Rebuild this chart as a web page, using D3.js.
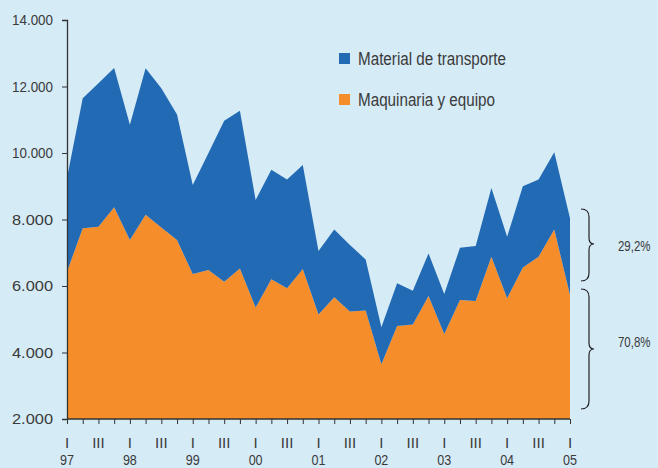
<!DOCTYPE html>
<html>
<head>
<meta charset="utf-8">
<script src="https://cdn.jsdelivr.net/npm/d3@7"></script>
<style>
  html, body { margin: 0; padding: 0; background: #d5ebf6; }
  svg { display: block; }
  text { font-family: "Liberation Sans Narrow", "Arial Narrow", "Liberation Sans", sans-serif; fill: #3a3a3a; }
</style>
</head>
<body>
<svg id="chart" width="658" height="468"></svg>
<script>
// ---- data ----
const years = ["97","98","99","00","01","02","03","04","05"];
const quarterTickLabels = ["I", "", "III", ""];
const seriesNames = ["Maquinaria y equipo", "Material de transporte"];
const maquinaria = [6430,7740,7780,8370,7380,8140,7760,7380,6360,6480,6130,6530,5350,6200,5930,6510,5140,5660,5230,5260,3650,4800,4840,5700,4560,5580,5550,6880,5630,6560,6880,7700,5730];
const transporte = [2820,3910,4320,4190,3470,4410,4190,3780,2680,3520,4840,4740,3240,3300,3270,3130,1910,2040,2000,1540,1110,1280,1020,1280,1200,1570,1650,2070,1850,2440,2320,2320,2310];
const yTicks = [2000,4000,6000,8000,10000,12000,14000];
const shareLabels = ["29,2%", "70,8%"];

// ---- layout ----
const W = 658, H = 468;
const mLeft = 67, mRight = 570, mTop = 20, mBottom = 419;
const colors = { "Maquinaria y equipo": "#f68d2b", "Material de transporte": "#236ab4" };

const svg = d3.select("#chart");
svg.append("rect").attr("width", W).attr("height", H).attr("fill", "#d5ebf6");

const n = maquinaria.length;
const table = d3.range(n).map(i => ({ i, "Maquinaria y equipo": maquinaria[i], "Material de transporte": transporte[i] }));

const x = d3.scaleLinear().domain([0, n - 1]).range([mLeft, mRight]);
const y = d3.scaleLinear().domain([2000, 14000]).range([mBottom, mTop]);

const stack = d3.stack().keys(seriesNames);
const layers = stack(table);

svg.append("clipPath").attr("id", "plot")
  .append("rect").attr("x", mLeft).attr("y", mTop - 5).attr("width", mRight - mLeft).attr("height", mBottom - mTop + 5);

const area = d3.area()
  .x(d => x(d.data.i))
  .y0(d => y(d[0]))
  .y1(d => y(d[1]));

svg.append("g").attr("clip-path", "url(#plot)")
  .selectAll("path").data(layers).join("path")
  .attr("fill", d => colors[d.key])
  .attr("d", area);

// ---- axes ----
const loc = d3.formatLocale({ decimal: ",", thousands: ".", grouping: [3], currency: ["", ""] });
const fmt = loc.format(",.0f");

const yAxis = d3.axisLeft(y).tickValues(yTicks).tickFormat(fmt).tickSize(5).tickPadding(9);
const gy = svg.append("g").attr("transform", `translate(${mLeft},0)`).call(yAxis);
gy.select(".domain").attr("stroke", "#333").attr("stroke-width", 1.3);
gy.selectAll(".tick line").attr("stroke", "#333");
gy.selectAll(".tick text").attr("font-size", 15.5).attr("fill", "#3a3a3a")
  .attr("font-family", "'Liberation Sans Narrow', 'Arial Narrow', 'Liberation Sans', sans-serif")
  .attr("textLength", 41).attr("lengthAdjust", "spacingAndGlyphs");

const xAxis = d3.axisBottom(x).tickValues(d3.range(n)).tickSize(5).tickFormat(() => "");
const gx = svg.append("g").attr("transform", `translate(0,${mBottom})`).call(xAxis);
gx.select(".domain").attr("stroke", "#333").attr("stroke-width", 1.3).attr("d", `M${mLeft},0H${mRight}`);
gx.selectAll(".tick line").attr("stroke", "#333");

// quarter labels
svg.append("g").selectAll("text").data(d3.range(n).filter(i => quarterTickLabels[i % 4] !== ""))
  .join("text")
  .attr("x", i => x(i)).attr("y", 448)
  .attr("text-anchor", "middle").attr("font-size", 15)
  .text(i => quarterTickLabels[i % 4]);

// year labels
svg.append("g").selectAll("text").data(years)
  .join("text")
  .attr("x", (d, k) => x(k * 4)).attr("y", 465)
  .attr("text-anchor", "middle").attr("font-size", 15)
  .attr("textLength", 14).attr("lengthAdjust", "spacingAndGlyphs")
  .text(d => d);

// ---- legend ----
const legendItems = ["Material de transporte", "Maquinaria y equipo"];
const legendWidths = [148, 137];
const lg = svg.append("g").selectAll("g").data(legendItems).join("g")
  .attr("transform", (d, k) => `translate(339,${53 + k * 41})`);
lg.append("rect").attr("width", 11).attr("height", 11).attr("fill", d => colors[d]);
lg.append("text").attr("x", 19).attr("y", 11.5).attr("font-size", 17.5)
  .attr("textLength", (d, k) => legendWidths[k]).attr("lengthAdjust", "spacingAndGlyphs")
  .text(d => d);

// ---- share brackets ----
function bracket(y0, y1, ym) {
  const xs = 589, xe = 581, xp = 594;
  return `M${xe},${y0} Q${xs},${y0} ${xs},${y0 + 8} L${xs},${ym - 6} Q${xs},${ym} ${xp},${ym} ` +
         `Q${xs},${ym} ${xs},${ym + 6} L${xs},${y1 - 8} Q${xs},${y1} ${xe},${y1}`;
}
const brackets = [{ y0: 209, y1: 281, ym: 244, ty: 251 }, { y0: 289, y1: 409, ym: 349, ty: 347 }];
svg.append("g").selectAll("path").data(brackets).join("path")
  .attr("d", d => bracket(d.y0, d.y1, d.ym))
  .attr("fill", "none").attr("stroke", "#222").attr("stroke-width", 1.2);
svg.append("g").selectAll("text").data(brackets).join("text")
  .attr("transform", d => `translate(618,${d.ty}) scale(0.74,1)`)
  .attr("font-size", 15.5)
  .text((d, k) => shareLabels[k]);
</script>
</body>
</html>
